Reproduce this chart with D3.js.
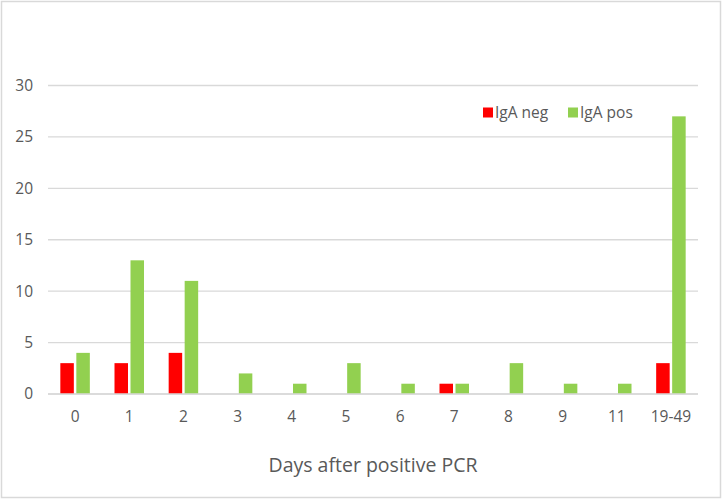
<!DOCTYPE html>
<html><head><meta charset="utf-8">
<script src="https://cdn.jsdelivr.net/npm/d3@7"></script>
<style>body{margin:0;background:#fff}svg{display:block}</style>
</head><body>
<svg id="c" width="722" height="500"></svg>
<script>
const categories = ["0","1","2","3","4","5","6","7","8","9","11","19-49"];
const igaNeg = [3,3,4,0,0,0,0,1,0,0,0,3];
const igaPos = [4,13,11,2,1,3,1,1,3,1,1,27];
const seriesNames = ["IgA neg","IgA pos"];
const yTicks = [0,5,10,15,20,25,30];
const colors = ["#ff0000","#92d050"];

const svg = d3.select("#c");
const font = "Open Sans, Liberation Sans, sans-serif";
svg.append("rect").attr("x",1.5).attr("y",1.5).attr("width",719).attr("height",496)
  .attr("fill","#fff").attr("stroke","#d9d9d9").attr("stroke-width",1.5);

const x = d3.scaleBand().domain(categories).range([48,698]);
const y = d3.scaleLinear().domain([0,30]).range([394,85.5]);

// gridlines
svg.append("g").selectAll("line").data(yTicks).join("line")
  .attr("x1",48).attr("x2",698).attr("y1",d=>y(d)).attr("y2",d=>y(d))
  .attr("stroke","#d9d9d9").attr("stroke-width",1.3);

// y axis labels
const ya = svg.append("g").attr("transform","translate(33,0)")
  .call(d3.axisLeft(y).tickValues(yTicks).tickSize(0).tickPadding(0));
ya.select(".domain").remove();
ya.selectAll("text").attr("font-family",font).attr("font-size",15.5).attr("fill","#595959");

// x axis labels
const xa = svg.append("g").attr("transform","translate(0,408)")
  .call(d3.axisBottom(x).tickSize(0).tickPadding(0));
xa.select(".domain").remove();
xa.selectAll("text").attr("font-family",font).attr("font-size",15.5).attr("fill","#595959").attr("dy","0.9em");

const bw = 13.5, gap = 2.5;
const sx = d3.scaleOrdinal().domain([0,1]).range([-bw-gap/2, gap/2]);
[igaNeg, igaPos].forEach((vals,si)=>{
  svg.append("g").selectAll("rect").data(vals).join("rect")
    .attr("x",(d,i)=>x(categories[i])+x.bandwidth()/2+sx(si))
    .attr("width",bw)
    .attr("y",d=>y(d)).attr("height",d=>y(0)-y(d))
    .attr("fill",colors[si]);
});

// baseline on top
svg.append("line").attr("x1",48).attr("x2",698).attr("y1",y(0)).attr("y2",y(0))
  .attr("stroke","#d9d9d9").attr("stroke-width",1.3);

// legend
const lx = [483, 568];
seriesNames.forEach((n,i)=>{
  svg.append("rect").attr("x",lx[i]).attr("y",107.5).attr("width",10).attr("height",10).attr("fill",colors[i]);
  svg.append("text").attr("x",lx[i]+12).attr("y",118).text(n)
    .attr("font-family",font).attr("font-size",15.5).attr("fill","#595959");
});

svg.append("text").attr("x",373).attr("y",472).attr("text-anchor","middle")
  .text("Days after positive PCR").attr("font-family",font).attr("font-size",19.5).attr("fill","#595959");
</script>
</body></html>
